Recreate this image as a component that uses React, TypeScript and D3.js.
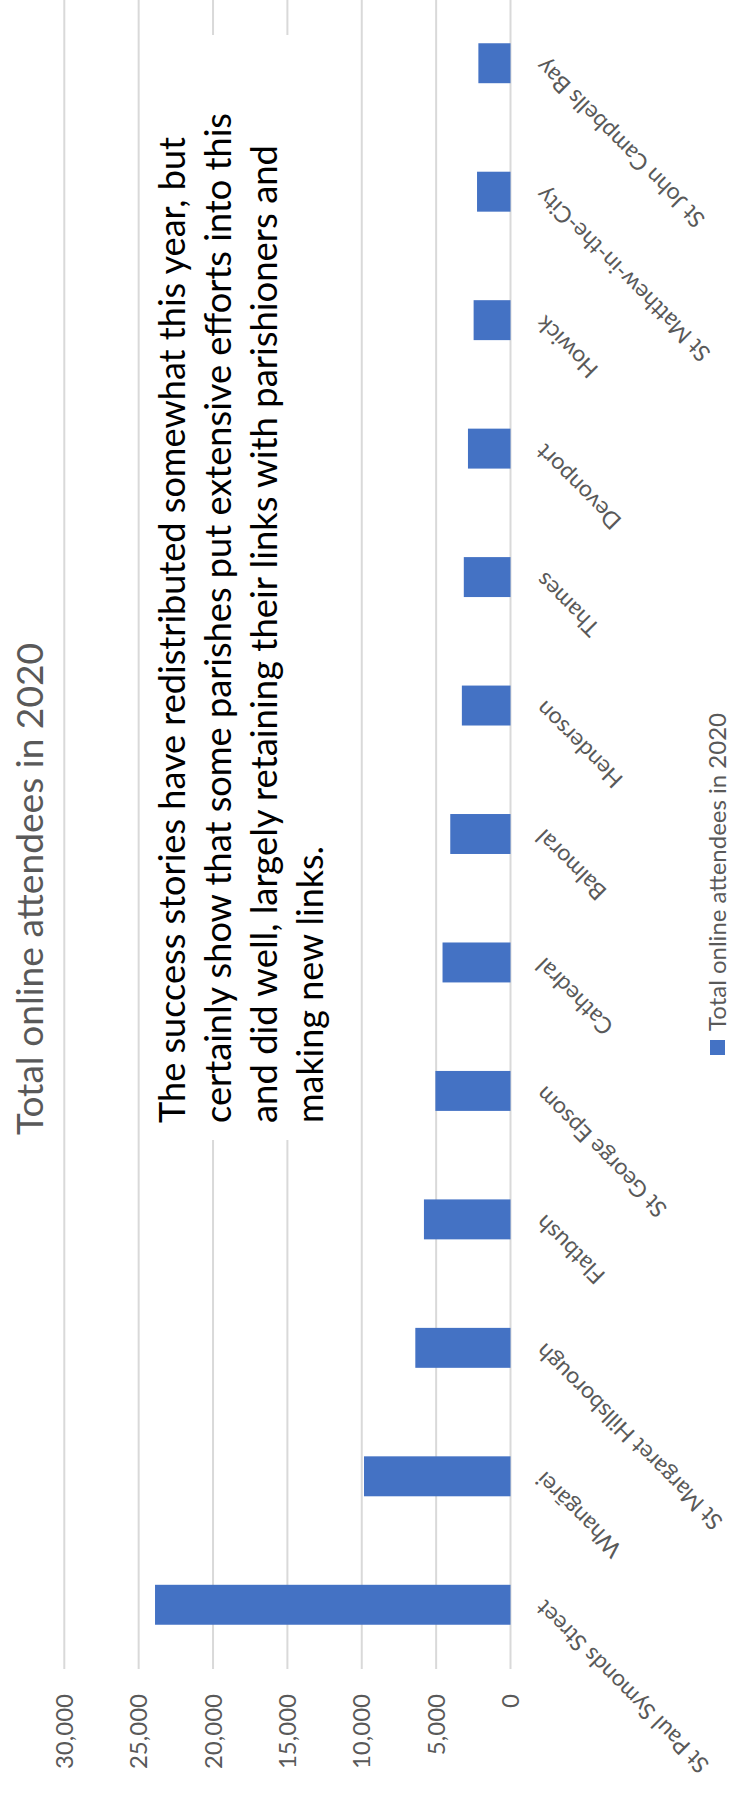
import * as d3 from "d3";

// Parishes, listed from the bottom of the picture to the top
const CATEGORIES = [
  "St Paul Symonds Street",
  "Whangārei",
  "St Margaret Hillsborough",
  "Flatbush",
  "St George Epsom",
  "Cathedral",
  "Balmoral",
  "Henderson",
  "Thames",
  "Devonport",
  "Howick",
  "St Matthew-in-the-City",
  "St John Campbells Bay",
];

const ATTENDEES = [
  23900, 9850, 6400, 5820, 5050, 4570, 4050, 3270, 3140, 2860, 2480, 2250, 2160,
];

const VALUE_TICKS = [0, 5000, 10000, 15000, 20000, 25000, 30000];

const TITLE = "Total online attendees in 2020";
const SERIES_NAME = "Total online attendees in 2020";

const NOTE_LINES = [
  "The success stories have redistributed somewhat this year, but",
  "certainly show that some parishes put extensive efforts into this",
  "and did well, largely retaining their links with parishioners and",
  "making new links.",
];
// measured lengths of the note lines, so the substitute font lines up
const NOTE_LENGTHS = [986, 1010, 978, 277];

const W = 733;
const H = 1793;
const FONT = "Lato, 'Open Sans', sans-serif";
const BLUE = "#4472C4";
const GREY_TEXT = "#595959";
const GRID = "#D9D9D9";

export default function App() {
  // the chart is turned a quarter: values run right-to-left, categories bottom-to-top
  const x = d3.scaleLinear().domain([0, 30000]).range([510.5, 64.3]);
  const y = d3
    .scaleBand<string>()
    .domain(CATEGORIES)
    .range([1669, -1])
    .paddingInner(0.689)
    .paddingOuter(0.3445);
  const bw = y.bandwidth();
  const fmt = d3.format(",");

  return (
    <svg
      width={W}
      height={H}
      style={{ position: "absolute", left: 0, top: 0, background: "#fff" }}
      fontFamily={FONT}
    >
      <rect x={0} y={0} width={W} height={H} fill="#fff" />

      {/* gridlines */}
      <g>
        {VALUE_TICKS.map((t) => (
          <line
            key={t}
            x1={x(t)}
            x2={x(t)}
            y1={-1}
            y2={1669}
            stroke={GRID}
            strokeWidth={2}
          />
        ))}
      </g>

      {/* value labels */}
      <g fill={GREY_TEXT} fontSize={24}>
        {VALUE_TICKS.map((t) => (
          <text
            key={t}
            transform={`translate(${x(t) + 8.6},1694) rotate(-90)`}
            textAnchor="end"
          >
            {fmt(t)}
          </text>
        ))}
      </g>

      {/* bars */}
      <g fill={BLUE}>
        {CATEGORIES.map((c, i) => (
          <rect
            key={c}
            x={x(ATTENDEES[i])}
            y={y(c)!}
            width={x(0) - x(ATTENDEES[i])}
            height={bw}
          />
        ))}
      </g>

      {/* category labels */}
      <g fill={GREY_TEXT} fontSize={23}>
        {CATEGORIES.map((c) => (
          <text
            key={c}
            transform={`translate(${x(0) + 35},${y(c)! + bw / 2 - 6}) rotate(-135)`}
            textAnchor="end"
          >
            {c}
          </text>
        ))}
      </g>

      {/* title */}
      <text
        transform="translate(43.3,889) rotate(-90)"
        textAnchor="middle"
        fontSize={37}
        fill={GREY_TEXT}
        textLength={492}
        lengthAdjust="spacingAndGlyphs"
      >
        {TITLE}
      </text>

      {/* note box */}
      <rect x={150} y={35} width={200} height={1105} fill="#fff" />
      <g fill="#000" fontSize={37}>
        {NOTE_LINES.map((line, i) => (
          <text
            key={i}
            transform={`translate(${185 + i * 46},1123) rotate(-90)`}
            textLength={NOTE_LENGTHS[i]}
            lengthAdjust="spacingAndGlyphs"
          >
            {line}
          </text>
        ))}
      </g>

      {/* legend */}
      <rect x={710} y={1040} width={15} height={15} fill={BLUE} />
      <text
        transform="translate(726,1031) rotate(-90)"
        fontSize={24}
        fill={GREY_TEXT}
        textLength={318}
        lengthAdjust="spacingAndGlyphs"
      >
        {SERIES_NAME}
      </text>
    </svg>
  );
}
